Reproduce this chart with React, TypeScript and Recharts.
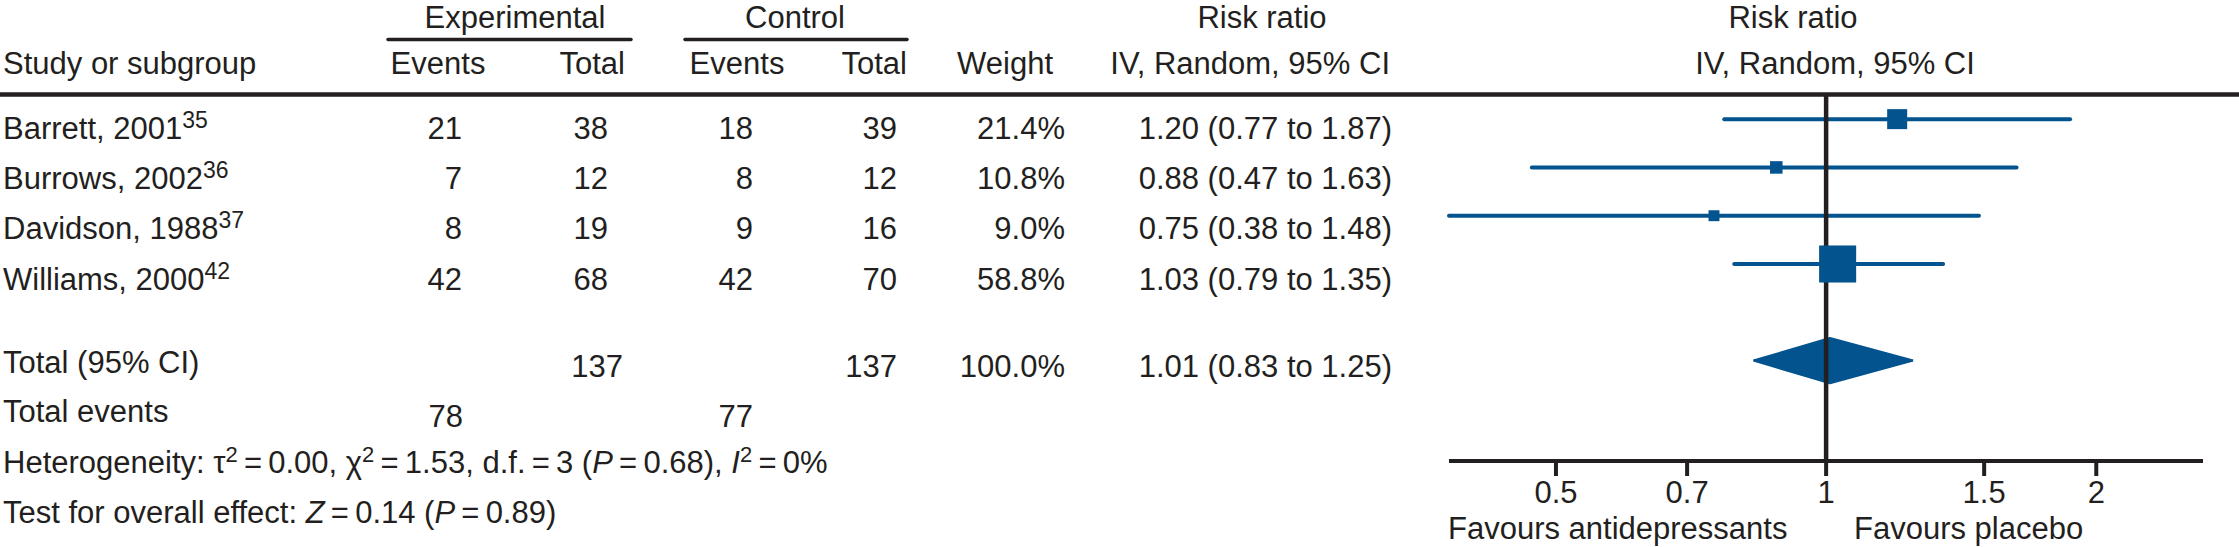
import React from "react";
import { ComposedChart, XAxis, YAxis, Scatter, Area, ReferenceLine } from "recharts";

if (typeof document !== "undefined") {
  document.body.style.margin = "0";
}

// ---------- data ----------
const studies = ["Barrett, 2001", "Burrows, 2002", "Davidson, 1988", "Williams, 2000"];
const refs = ["35", "36", "37", "42"];
const expEvents = [21, 7, 8, 42];
const expTotal = [38, 12, 19, 68];
const ctrlEvents = [18, 8, 9, 42];
const ctrlTotal = [39, 12, 16, 70];
const weights = [21.4, 10.8, 9.0, 58.8];
const riskRatio = [1.2, 0.88, 0.75, 1.03];
const ciLow = [0.77, 0.47, 0.38, 0.79];
const ciHigh = [1.87, 1.63, 1.48, 1.35];

const totalLabel = "Total (95% CI)";
const totalExp = 137;
const totalCtrl = 137;
const totalWeight = "100.0%";
const totalRR = 1.01;
const totalLow = 0.83;
const totalHigh = 1.25;
const totalEventsExp = 78;
const totalEventsCtrl = 77;

const xTicks = [0.5, 0.7, 1, 1.5, 2];
const xDomain = [0.38, 2.63];
const favourLeft = "Favours antidepressants";
const favourRight = "Favours placebo";

// ---------- style / layout ----------
const W = 2239;
const H = 547;
const INK = "#231f20";
const BLUE = "#02538e";
const FONT = "'Liberation Sans', Arial, sans-serif";
const FS = 31;
const PLOT_LEFT = 1449;
const PLOT_RIGHT = 2203;
const PLOT_TOP = 95;
const PLOT_BOTTOM = 461;
const X_AXIS_H = 60;
const rowBase = [139, 189, 239, 290];
const DIAMOND_ROW = 6;
const HEAD1 = 28;

const fmt2 = (v: number) => v.toFixed(2);
const ciText = (r: number, l: number, h: number) => `${fmt2(r)} (${fmt2(l)} to ${fmt2(h)})`;

const pointData = studies.map((s, i) => ({ x: riskRatio[i], y: i + 1, w: weights[i] }));
const diamondHalf = 0.47;
const diamondData = [
  { x: totalLow, d: [DIAMOND_ROW, DIAMOND_ROW] },
  { x: totalRR, d: [DIAMOND_ROW - diamondHalf, DIAMOND_ROW + diamondHalf] },
  { x: totalHigh, d: [DIAMOND_ROW, DIAMOND_ROW] },
];

const squareSide = (w: number) => 5.6 * Math.sqrt(w) - 5.9;

const SquareShape = (props: any) => {
  const { cx, cy, payload } = props;
  const s = squareSide(payload.w);
  return <rect x={cx - s / 2} y={cy - s / 2} width={s} height={s} fill={BLUE} />;
};

const T = (p: any) => (
  <text fontFamily={FONT} fontSize={FS} fill={INK} {...p} />
);

const EQ = "\u2009=\u2009";

export default function App() {
  return (
    <div style={{ position: "relative", width: W, height: H, background: "#fff", overflow: "hidden" }}>
      <ComposedChart
        width={W}
        height={H}
        margin={{ top: PLOT_TOP, right: W - PLOT_RIGHT, bottom: H - PLOT_BOTTOM - X_AXIS_H, left: PLOT_LEFT }}
      >
        <XAxis
          dataKey="x"
          type="number"
          scale="log"
          domain={xDomain}
          allowDataOverflow
          ticks={xTicks}
          height={X_AXIS_H}
          tickSize={15}
          tickMargin={5}
          axisLine={{ stroke: INK, strokeWidth: 4 }}
          tickLine={{ stroke: INK, strokeWidth: 4 }}
          tick={{ fill: INK, fontSize: FS, fontFamily: FONT }}
          interval={0}
        />
        <YAxis dataKey="y" type="number" domain={[0.5, 8.08]} reversed hide allowDataOverflow />
        {studies.map((s, i) => (
          <ReferenceLine
            key={s}
            segment={[
              { x: ciLow[i], y: i + 1 },
              { x: ciHigh[i], y: i + 1 },
            ]}
            stroke={BLUE}
            strokeWidth={4}
            strokeLinecap="round"
            ifOverflow="visible"
          />
        ))}
        <ReferenceLine x={1} stroke={INK} strokeWidth={4.5} ifOverflow="visible" />
        <Area
          data={diamondData}
          dataKey="d"
          type="linear"
          stroke={BLUE}
          strokeWidth={2}
          strokeLinejoin="round"
          fill={BLUE}
          fillOpacity={1}
          dot={false}
          activeDot={false}
          isAnimationActive={false}
        />
        <Scatter data={pointData} shape={<SquareShape />} isAnimationActive={false} />
      </ComposedChart>

      <svg width={W} height={H} style={{ position: "absolute", left: 0, top: 0, pointerEvents: "none" }}>
        {/* header group labels */}
        <T x={515} y={HEAD1} textAnchor="middle">Experimental</T>
        <T x={795} y={HEAD1} textAnchor="middle">Control</T>
        <T x={1262} y={HEAD1} textAnchor="middle">Risk ratio</T>
        <T x={1793} y={HEAD1} textAnchor="middle">Risk ratio</T>
        <line x1={388} x2={631} y1={39.5} y2={39.5} stroke={INK} strokeWidth={3.5} strokeLinecap="round" />
        <line x1={685} x2={907} y1={39.5} y2={39.5} stroke={INK} strokeWidth={3.5} strokeLinecap="round" />

        {/* header row 2 */}
        <T x={3} y={74}>Study or subgroup</T>
        <T x={438} y={74} textAnchor="middle">Events</T>
        <T x={625} y={74} textAnchor="end">Total</T>
        <T x={737} y={74} textAnchor="middle">Events</T>
        <T x={907} y={74} textAnchor="end">Total</T>
        <T x={1053} y={74} textAnchor="end">Weight</T>
        <T x={1390} y={74} textAnchor="end">IV, Random, 95% CI</T>
        <T x={1835} y={74} textAnchor="middle">IV, Random, 95% CI</T>

        <line x1={0} x2={W} y1={94.5} y2={94.5} stroke={INK} strokeWidth={4.5} />

        {/* study rows */}
        {studies.map((s, i) => (
          <g key={s}>
            <T x={3} y={rowBase[i]}>
              <tspan>{s}</tspan>
              <tspan dy={-11} fontSize={23}>{refs[i]}</tspan>
            </T>
            <T x={462} y={rowBase[i]} textAnchor="end">{expEvents[i]}</T>
            <T x={608} y={rowBase[i]} textAnchor="end">{expTotal[i]}</T>
            <T x={753} y={rowBase[i]} textAnchor="end">{ctrlEvents[i]}</T>
            <T x={897} y={rowBase[i]} textAnchor="end">{ctrlTotal[i]}</T>
            <T x={1065} y={rowBase[i]} textAnchor="end">{weights[i].toFixed(1)}%</T>
            <T x={1392} y={rowBase[i]} textAnchor="end">{ciText(riskRatio[i], ciLow[i], ciHigh[i])}</T>
          </g>
        ))}

        {/* totals */}
        <T x={3} y={373}>{totalLabel}</T>
        <T x={623} y={377} textAnchor="end">{totalExp}</T>
        <T x={897} y={377} textAnchor="end">{totalCtrl}</T>
        <T x={1065} y={377} textAnchor="end">{totalWeight}</T>
        <T x={1392} y={377} textAnchor="end">{ciText(totalRR, totalLow, totalHigh)}</T>

        <T x={3} y={422}>Total events</T>
        <T x={463} y={427} textAnchor="end">{totalEventsExp}</T>
        <T x={753} y={427} textAnchor="end">{totalEventsCtrl}</T>

        <T x={3} y={473}>
          <tspan>{"Heterogeneity: \u03c4"}</tspan>
          <tspan dy={-11} fontSize={22}>2</tspan>
          <tspan dy={11}>{EQ + "0.00, \u03c7"}</tspan>
          <tspan dy={-11} fontSize={22}>2</tspan>
          <tspan dy={11}>{EQ + "1.53, d.f." + EQ + "3 ("}</tspan>
          <tspan fontStyle="italic">P</tspan>
          <tspan>{EQ + "0.68), "}</tspan>
          <tspan fontStyle="italic">I</tspan>
          <tspan dy={-11} fontSize={22}>2</tspan>
          <tspan dy={11}>{EQ + "0%"}</tspan>
        </T>
        <T x={3} y={523}>
          <tspan>{"Test for overall effect: "}</tspan>
          <tspan fontStyle="italic">Z</tspan>
          <tspan>{EQ + "0.14 ("}</tspan>
          <tspan fontStyle="italic">P</tspan>
          <tspan>{EQ + "0.89)"}</tspan>
        </T>

        <T x={1448} y={539}>{favourLeft}</T>
        <T x={1854} y={539}>{favourRight}</T>
      </svg>
    </div>
  );
}
